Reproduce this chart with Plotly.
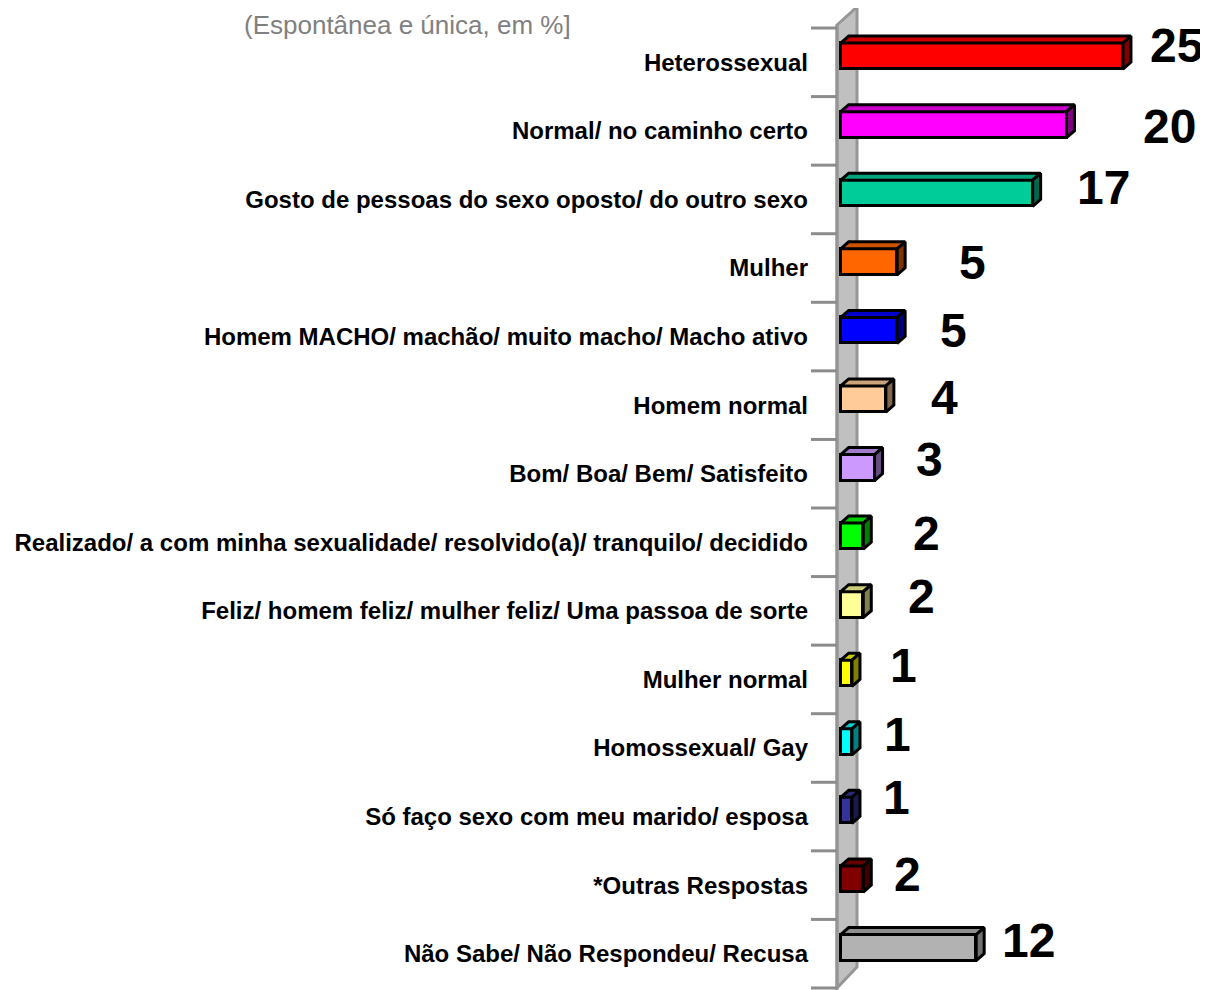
import plotly.graph_objects as go

# ---------------- data ----------------
categories = [
    "Heterossexual",
    "Normal/ no caminho certo",
    "Gosto de pessoas do sexo oposto/ do outro sexo",
    "Mulher",
    "Homem MACHO/ machão/ muito macho/ Macho ativo",
    "Homem normal",
    "Bom/ Boa/ Bem/ Satisfeito",
    "Realizado/ a com minha sexualidade/ resolvido(a)/ tranquilo/ decidido",
    "Feliz/ homem feliz/ mulher feliz/ Uma passoa de sorte",
    "Mulher normal",
    "Homossexual/ Gay",
    "Só faço sexo com meu marido/ esposa",
    "*Outras Respostas",
    "Não Sabe/ Não Respondeu/ Recusa",
]
values = [25, 20, 17, 5, 5, 4, 3, 2, 2, 1, 1, 1, 2, 12]

# ---------------- styles ----------------
front_colors = ["#FF0000", "#FF00FF", "#00CC99", "#FF6600", "#0000FF", "#FFCC99", "#CC99FF",
                "#00FF00", "#FFFF99", "#FFFF00", "#00FFFF", "#333399", "#800000", "#B2B2B2"]
top_colors = ["#CC0000", "#CC00CC", "#00A37A", "#CC5200", "#0000CC", "#CCA37A", "#A37ACC",
              "#00CC00", "#CCCC7A", "#CCCC00", "#00CCCC", "#29297A", "#660000", "#8E8E8E"]
side_colors = ["#800000", "#800080", "#00664D", "#803300", "#000080", "#80664D", "#664D80",
               "#008000", "#80804D", "#808000", "#008080", "#1A1A4D", "#400000", "#707070"]
# manual placement of value labels (pixels, relative to bar end / band centre)
label_dx = [54, 103, 71, 75, 56, 59, 55, 63, 58, 52, 46, 45, 44, 52]
label_dy = [-17, -4, -12, -6, -6, -8, -14, -9, -14, -14, -14, -19, -11, -13]

PAGE_W, PAGE_H = 1208, 990
OFF = 8                                # default page margin of the html body
W, H = PAGE_W - OFF, PAGE_H - OFF      # figure size
X0_PX, PX_PER_UNIT = 840.7, 11.29      # value 0 position (page px) and scale
C0_PX, BAND_PX = 62.3, 68.57           # first band centre (page px) and band height
WALL_FRONT_PX = 837

BAR_OFFSET, BAR_WIDTH = -0.28, 0.38
DX = 8 / PX_PER_UNIT                   # depth of 3D effect in value units
DY = 7 / BAND_PX                       # depth in category units
FONT = "Arial, Liberation Sans, sans-serif"


def px_x(px):
    return (px - OFF) / W


def px_y(py):
    return 1 - (py - OFF) / H


n = len(categories)
idx = list(range(n))

fig = go.Figure()

# 3D top and side faces
for i, v in enumerate(values):
    top = i + BAR_OFFSET
    bot = top + BAR_WIDTH
    fig.add_trace(go.Scatter(
        x=[0, v, v + DX, DX, 0], y=[top, top, top - DY, top - DY, top],
        mode="lines", fill="toself", fillcolor=top_colors[i],
        line=dict(color="black", width=3), hoverinfo="skip", showlegend=False))
    fig.add_trace(go.Scatter(
        x=[v, v + DX, v + DX, v, v], y=[top, top - DY, bot - DY, bot, top],
        mode="lines", fill="toself", fillcolor=side_colors[i],
        line=dict(color="black", width=3), hoverinfo="skip", showlegend=False))

# front faces
fig.add_trace(go.Bar(
    x=values, y=idx, orientation="h", width=BAR_WIDTH, offset=BAR_OFFSET,
    marker=dict(color=front_colors, line=dict(color="black", width=3)),
    hoverinfo="skip", showlegend=False))

# value labels
for i, v in enumerate(values):
    fig.add_annotation(
        x=v, y=i, xref="x", yref="y", text=str(v), showarrow=False,
        xanchor="center", yanchor="middle", xshift=label_dx[i], yshift=-label_dy[i],
        font=dict(family=FONT, size=48, color="black", weight="bold"))

# title fragment
fig.add_annotation(
    x=px_x(242), y=px_y(OFF), xref="paper", yref="paper", xanchor="left", yanchor="top",
    text="(Espontânea e única, em %]", showarrow=False,
    font=dict(family=FONT, size=26, color="#808080"))

# wall (3D axis)
def P(px, py):
    return f"{px_x(px):.5f},{px_y(py):.5f}"

wall_path = "M " + " L ".join([P(837, 25), P(857, 7), P(857, 967), P(837, 988)]) + " Z"
fig.add_shape(type="path", path=wall_path, xref="paper", yref="paper",
              fillcolor="#C0C0C0", line=dict(color="#969696", width=3), layer="below")
fig.add_shape(type="line", xref="paper", yref="paper",
              x0=px_x(837), x1=px_x(837), y0=px_y(25), y1=px_y(PAGE_H),
              line=dict(color="#969696", width=3), layer="below")
# boundary tick marks
for k in range(n + 1):
    fig.add_shape(type="line", xref="paper", yref="y",
                  x0=px_x(811), x1=px_x(837), y0=k - 0.5, y1=k - 0.5,
                  line=dict(color="#8C8C8C", width=3), layer="below")

fig.update_layout(
    width=W, height=H,
    margin=dict(l=0, r=0, t=0, b=0),
    paper_bgcolor="white", plot_bgcolor="rgba(0,0,0,0)",
    xaxis=dict(domain=[px_x(WALL_FRONT_PX), 1],
               range=[(WALL_FRONT_PX - X0_PX) / PX_PER_UNIT, (PAGE_W - X0_PX) / PX_PER_UNIT],
               visible=False, fixedrange=True),
    yaxis=dict(range=[(PAGE_H - C0_PX) / BAND_PX, (OFF - C0_PX) / BAND_PX],
               tickmode="array", tickvals=idx, ticktext=categories,
               ticks="", showgrid=False, zeroline=False, showline=False,
               ticklabelstandoff=28,
               tickfont=dict(family=FONT, size=24, color="black", weight="bold"),
               fixedrange=True),
    bargap=0,
)

fig.write_html("out.html")
